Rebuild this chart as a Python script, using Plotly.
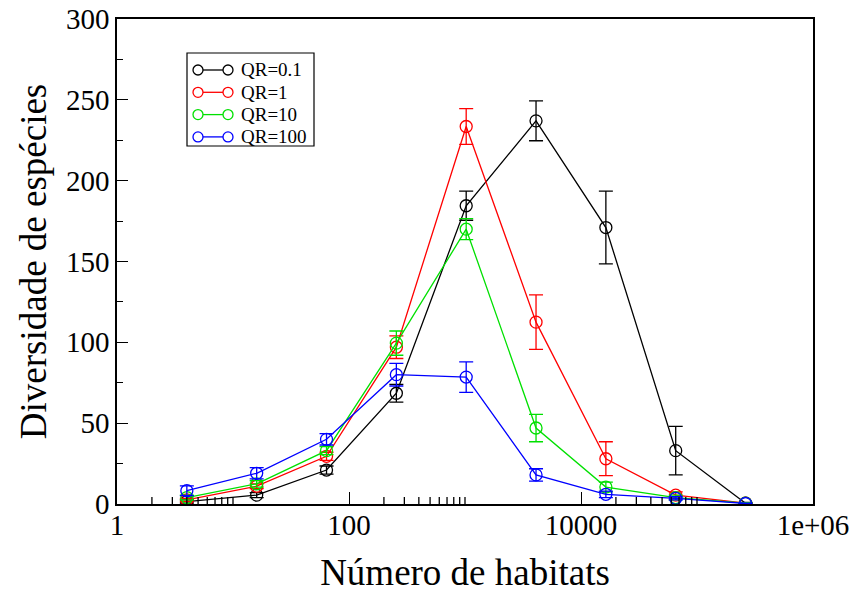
import plotly.graph_objects as go

# Number of habitats (powers of 4)
habitats = [4, 16, 64, 256, 1024, 4096, 16384, 65536, 262144]

# Species diversity for each QR value, with error-bar half-heights
div_qr01 = [1.5, 5.5, 21, 68.5, 184.5, 237, 171, 33, 0.5]
err_qr01 = [1, 1.5, 2.5, 5.5, 9, 12.3, 22.5, 15, 0.5]

div_qr1 = [2.5, 11, 29.5, 97, 233.5, 112.5, 28, 5.5, 0.5]
err_qr1 = [1, 1.5, 2.5, 7, 11, 16.8, 10.5, 2, 0.3]

div_qr10 = [4, 12.5, 33, 99.5, 170, 47, 10.5, 4, 0.5]
err_qr10 = [1.5, 2, 2.5, 7.5, 6.5, 8.5, 3, 1.5, 0.3]

div_qr100 = [8.2, 19, 40, 80, 78.5, 18, 6, 3.5, 0.3]
err_qr100 = [3, 3.5, 3.5, 7, 9.4, 3.8, 2, 1, 0.3]

series_names = ["QR=0.1", "QR=1", "QR=10", "QR=100"]
series_vals = [div_qr01, div_qr1, div_qr10, div_qr100]
series_errs = [err_qr01, err_qr1, err_qr10, err_qr100]
series_colors = ["#000000", "#ff0000", "#00e000", "#0000ff"]

x_ticks = [1, 100, 10000, 1e6]
x_tick_text = ["1", "100", "10000", "1e+06"]
x_minor = [2, 3, 4, 5, 6, 7, 8, 9, 10,
           200, 300, 400, 500, 600, 700, 800, 900, 1000,
           20000, 30000, 40000, 50000, 60000, 70000, 80000, 90000, 100000]
y_ticks = [0, 50, 100, 150, 200, 250, 300]

FONT = "Liberation Serif"
W, H = 853, 596
ML, MR, MT, MB = 117, 40, 19, 92
PW, PH = W - ML - MR, H - MT - MB


def px_x(px):
    """Pixel column -> paper x."""
    return (px - ML) / PW


def px_y(py):
    """Pixel row -> paper y."""
    return (H - MB - py) / PH


fig = go.Figure()
for name, vals, errs, color in zip(series_names, series_vals, series_errs, series_colors):
    fig.add_trace(go.Scatter(
        x=habitats, y=vals, name=name, mode="lines+markers",
        line=dict(color=color, width=1.3),
        marker=dict(symbol="circle-open", size=12, color=color,
                    line=dict(width=1.3, color=color)),
        error_y=dict(type="data", array=errs, visible=True,
                     color=color, thickness=1.3, width=7),
        showlegend=False,
    ))

shapes = []
# minor ticks along the bottom of the log x axis
for v in x_minor:
    shapes.append(dict(type="line", xref="x", yref="paper",
                       x0=v, x1=v,
                       ysizemode="pixel", yanchor=0, y0=0, y1=7,
                       line=dict(color="black", width=1.3)))

# legend box with two-circle line samples
box_l, box_r, box_t, box_b = 187, 314, 53, 146
shapes.append(dict(type="rect", xref="paper", yref="paper",
                   x0=px_x(box_l), x1=px_x(box_r), y0=px_y(box_b), y1=px_y(box_t),
                   line=dict(color="black", width=1.2), fillcolor="white", layer="above"))
annotations = []
row_y0, row_step = 70, 22.3
c_left, c_right, rad = 198, 228, 5
for i, (name, color) in enumerate(zip(series_names, series_colors)):
    ry = px_y(row_y0 + i * row_step)
    shapes.append(dict(type="line", xref="paper", yref="paper",
                       x0=px_x(c_left + rad), x1=px_x(c_right - rad), y0=ry, y1=ry,
                       line=dict(color=color, width=1.3), layer="above"))
    for cx in (c_left, c_right):
        shapes.append(dict(type="circle", xref="paper", yref="paper",
                           xsizemode="pixel", ysizemode="pixel",
                           xanchor=px_x(cx), yanchor=ry,
                           x0=-rad, x1=rad, y0=-rad, y1=rad,
                           line=dict(color=color, width=1.3), layer="above"))
    annotations.append(dict(text=name, xref="paper", yref="paper",
                            x=px_x(239), y=ry, xanchor="left", yanchor="middle",
                            showarrow=False,
                            font=dict(family=FONT, size=19, color="black")))

fig.update_layout(
    width=W, height=H,
    margin=dict(l=ML, r=MR, t=MT, b=MB),
    paper_bgcolor="white", plot_bgcolor="white",
    font=dict(family=FONT, color="black"),
    showlegend=False,
    shapes=shapes,
    annotations=annotations,
    xaxis=dict(
        type="log", range=[0, 6], automargin=False,
        tickmode="array", tickvals=x_ticks, ticktext=x_tick_text,
        ticks="inside", ticklen=12, tickwidth=1.3, tickcolor="black",
        ticklabelstandoff=-6,
        showline=True, linecolor="black", linewidth=1.5, mirror=True,
        showgrid=False, zeroline=False,
        tickfont=dict(family=FONT, size=29),
        title=dict(text="Número de habitats", font=dict(family=FONT, size=37),
                   standoff=20),
    ),
    yaxis=dict(
        range=[0, 300], automargin=False,
        tickmode="array", tickvals=y_ticks,
        ticks="inside", ticklen=11, tickwidth=1.3, tickcolor="black",
        minor=dict(tickmode="linear", tick0=0, dtick=25, ticks="inside",
                   ticklen=6, tickwidth=1.3, tickcolor="black"),
        showline=True, linecolor="black", linewidth=1.5, mirror=True,
        showgrid=False, zeroline=False,
        tickfont=dict(family=FONT, size=29),
        title=dict(text="Diversidade de espécies", font=dict(family=FONT, size=37),
                   standoff=8),
    ),
)

fig.write_html("out.html")
